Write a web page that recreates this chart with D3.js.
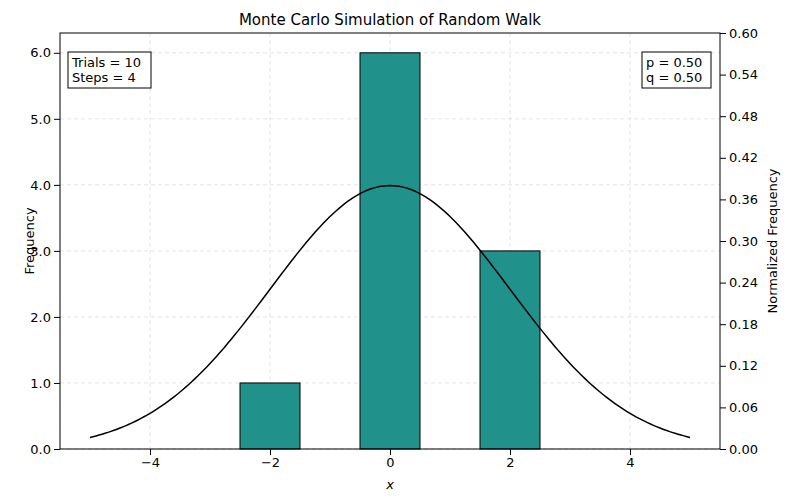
<!DOCTYPE html>
<html>
<head>
<meta charset="utf-8">
<script src="https://cdn.jsdelivr.net/npm/d3@7"></script>
<style>
body { margin: 0; background: white; }
text { font-family: "DejaVu Sans", sans-serif; }
</style>
</head>
<body>
<div id="chart"></div>
<script>
// histogram data
var binCenters = [-4, -2, 0, 2, 4]
var counts = [0, 1, 6, 3, 0]
var trials = 10, steps = 4, p = 0.5, q = 0.5
var binWidth = 2
var xTicks = [-4, -2, 0, 2, 4]
var yTicks = [0, 1, 2, 3, 4, 5, 6]
var rightTicks = d3.range(0, 11).map(function (i) { return i * 0.06 })

var W = 800, H = 500
var m = { left: 60, right: 80, top: 33, bottom: 51 }

var svg = d3.select("#chart").append("svg").attr("width", W).attr("height", H)

var x = d3.scaleLinear().domain([-5.5, 5.5]).range([m.left, W - m.right])
var y = d3.scaleLinear().domain([0, 6.3]).range([H - m.bottom, m.top])
var y2 = d3.scaleLinear().domain([0, 0.6]).range([H - m.bottom, m.top])

// grid
svg.append("g").selectAll("line").data(xTicks).enter().append("line")
    .attr("x1", d => x(d)).attr("x2", d => x(d))
    .attr("y1", m.top).attr("y2", H - m.bottom)
    .attr("stroke", "#ddd").attr("stroke-dasharray", "4,3").attr("stroke-width", 0.8)
svg.append("g").selectAll("line").data(yTicks).enter().append("line")
    .attr("x1", m.left).attr("x2", W - m.right)
    .attr("y1", d => y(d)).attr("y2", d => y(d))
    .attr("stroke", "#ddd").attr("stroke-dasharray", "4,3").attr("stroke-width", 0.8)

// bars
svg.append("g").selectAll("rect").data(binCenters).enter().append("rect")
    .attr("x", d => x(d - 0.5))
    .attr("width", x(1) - x(0))
    .attr("y", (d, i) => y(counts[i]))
    .attr("height", (d, i) => y(0) - y(counts[i]))
    .attr("fill", "#21918c").attr("stroke", "black").attr("stroke-width", 1)

// normal curve scaled to counts
var sigma = Math.sqrt(4 * p * q * steps)
var xs = d3.range(0, 201).map(i => -5 + i * 0.05)
var line = d3.line()
    .x(d => x(d))
    .y(d => y(trials * binWidth * Math.exp(-d * d / (2 * sigma * sigma)) / (sigma * Math.sqrt(2 * Math.PI))))
svg.append("path").datum(xs).attr("d", line)
    .attr("fill", "none").attr("stroke", "black").attr("stroke-width", 1.5)

// axes
svg.append("g").attr("transform", "translate(0," + (H - m.bottom) + ")")
    .call(d3.axisBottom(x).tickValues(xTicks).tickSizeOuter(0).tickFormat(d => d < 0 ? "\u2212" + (-d) : d))
svg.append("g").attr("transform", "translate(" + m.left + ",0)")
    .call(d3.axisLeft(y).tickValues(yTicks).tickSizeOuter(0))
svg.append("g").attr("transform", "translate(" + (W - m.right) + ",0)")
    .call(d3.axisRight(y2).tickValues(rightTicks).tickSizeOuter(0).tickFormat(d3.format(".2f")))
svg.selectAll(".tick text").attr("font-size", 13).attr("fill", "black")
svg.selectAll(".domain").remove()
svg.append("rect").attr("x", m.left).attr("y", m.top)
    .attr("width", W - m.left - m.right).attr("height", H - m.top - m.bottom)
    .attr("fill", "none").attr("stroke", "black")

// labels
svg.append("text").attr("x", (m.left + W - m.right) / 2).attr("y", 25)
    .attr("text-anchor", "middle").attr("font-size", 15).text("Monte Carlo Simulation of Random Walk")
svg.append("text").attr("x", (m.left + W - m.right) / 2).attr("y", 489)
    .attr("text-anchor", "middle").attr("font-size", 13).attr("font-style", "italic").text("x")
svg.append("text").attr("transform", "translate(34," + ((m.top + H - m.bottom) / 2) + ") rotate(-90)")
    .attr("text-anchor", "middle").attr("font-size", 13).text("Frequency")
svg.append("text").attr("transform", "translate(777," + ((m.top + H - m.bottom) / 2) + ") rotate(-90)")
    .attr("text-anchor", "middle").attr("font-size", 13).text("Normalized Frequency")

// info boxes
function box(x0, y0, w, lines) {
    svg.append("rect").attr("x", x0).attr("y", y0).attr("width", w).attr("height", 36)
        .attr("fill", "white").attr("stroke", "black")
    lines.forEach(function (t, i) {
        svg.append("text").attr("x", x0 + 4).attr("y", y0 + 15 + i * 15).attr("font-size", 13).text(t)
    })
}
box(68, 52, 83, ["Trials = " + trials, "Steps = " + steps])
box(642, 52, 69, ["p = " + p.toFixed(2), "q = " + q.toFixed(2)])
</script>
</body>
</html>
